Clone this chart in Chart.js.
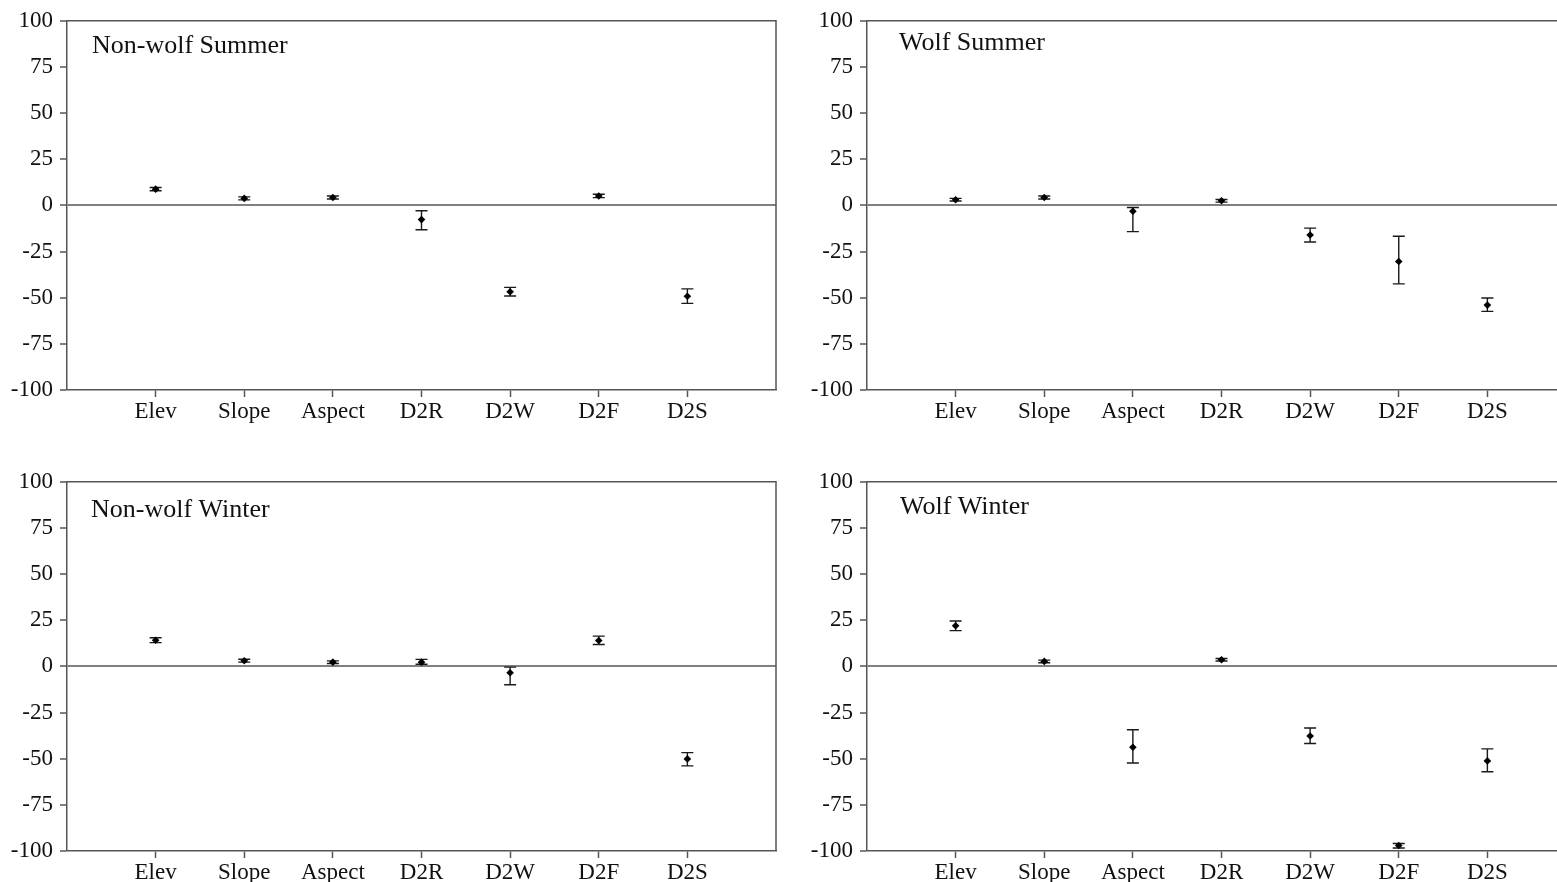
<!DOCTYPE html>
<html>
<head>
<meta charset="utf-8">
<script src="https://cdn.jsdelivr.net/npm/chart.js@4/dist/chart.umd.min.js"></script>
<style>
  body { margin: 0; background: #fff; }
  #wrap { position: relative; width: 1557px; height: 882px; overflow: hidden; }
  .panel { position: absolute; width: 786px; height: 430px; }
</style>
</head>
<body>
<div id="wrap">
  <div class="panel" style="left:0;top:0"><canvas id="c0" width="786" height="430"></canvas></div>
  <div class="panel" style="left:800px;top:0"><canvas id="c1" width="786" height="430"></canvas></div>
  <div class="panel" style="left:0;top:461px"><canvas id="c2" width="786" height="430"></canvas></div>
  <div class="panel" style="left:800px;top:461px"><canvas id="c3" width="786" height="430"></canvas></div>
</div>
<script>
/* DATA */
const categories = ["Elev", "Slope", "Aspect", "D2R", "D2W", "D2F", "D2S"];
const yTicks = [-100, -75, -50, -25, 0, 25, 50, 75, 100];
const panelTitles = ["Non-wolf Summer", "Wolf Summer", "Non-wolf Winter", "Wolf Winter"];

const nonWolfSummerMean = [8.8, 3.8, 4.3, -7.7, -46.8, 5.1, -49.2];
const nonWolfSummerLow  = [7.9, 3.0, 3.5, -13.2, -49.1, 4.2, -53.1];
const nonWolfSummerHigh = [9.7, 4.6, 5.1, -2.9, -44.4, 6.0, -45.2];

const wolfSummerMean = [3.1, 4.3, -3.2, 2.5, -16.0, -30.4, -54.0];
const wolfSummerLow  = [2.4, 3.5, -14.2, 1.8, -19.8, -42.5, -57.4];
const wolfSummerHigh = [3.8, 5.1, -1.1, 3.2, -12.3, -16.7, -50.2];

const nonWolfWinterMean = [14.2, 3.1, 2.3, 2.3, -3.4, 14.0, -50.1];
const nonWolfWinterLow  = [12.9, 2.3, 1.6, 1.2, -9.9, 11.9, -53.9];
const nonWolfWinterHigh = [15.5, 3.9, 3.0, 3.8, -0.4, 16.4, -46.7];

const wolfWinterMean = [22.0, 2.7, -43.8, 3.6, -37.7, -97.0, -51.2];
const wolfWinterLow  = [19.4, 2.0, -52.3, 2.9, -41.8, -98.4, -57.1];
const wolfWinterHigh = [24.6, 3.4, -34.3, 4.3, -33.4, -95.9, -44.7];

const panelMeans = [nonWolfSummerMean, wolfSummerMean, nonWolfWinterMean, wolfWinterMean];
const panelLows = [nonWolfSummerLow, wolfSummerLow, nonWolfWinterLow, wolfWinterLow];
const panelHighs = [nonWolfSummerHigh, wolfSummerHigh, nonWolfWinterHigh, wolfWinterHigh];

/* STYLE */
const FONT = "'Liberation Serif', 'Times New Roman', serif";
const AXIS = "#555";
const titleOffsets = [[25, 25], [32, 22], [24, 28], [33, 25]];

/* PLUGINS */
const errorBars = {
  id: "errorBars",
  beforeDatasetsDraw(chart, args, opts) {
    const { ctx } = chart;
    const xs = chart.scales.x, ys = chart.scales.y;
    ctx.save();
    ctx.strokeStyle = "#1a1a1a";
    ctx.lineWidth = 1.4;
    opts.low.forEach((lo, i) => {
      const x = xs.getPixelForValue(i + 1);
      const y1 = ys.getPixelForValue(lo);
      const y2 = ys.getPixelForValue(opts.high[i]);
      ctx.beginPath();
      ctx.moveTo(x, y1); ctx.lineTo(x, y2);
      ctx.moveTo(x - 6, y1); ctx.lineTo(x + 6, y1);
      ctx.moveTo(x - 6, y2); ctx.lineTo(x + 6, y2);
      ctx.stroke();
    });
    ctx.restore();
  }
};

const frame = {
  id: "frame",
  afterDraw(chart, args, opts) {
    const { ctx, chartArea: a } = chart;
    ctx.save();
    ctx.strokeStyle = AXIS;
    ctx.lineWidth = 1.5;
    ctx.beginPath();
    ctx.moveTo(a.left, a.top);
    ctx.lineTo(a.right, a.top);
    ctx.lineTo(a.right, a.bottom);
    ctx.stroke();
    ctx.fillStyle = "#111";
    ctx.font = "26px " + FONT;
    ctx.textBaseline = "middle";
    ctx.fillText(opts.title, a.left + opts.dx, a.top + opts.dy);
    ctx.restore();
  }
};

/* CHARTS */
function makePanel(i) {
  const pts = panelMeans[i].map((v, k) => ({ x: k + 1, y: v }));
  return new Chart(document.getElementById("c" + i), {
    type: "scatter",
    data: {
      datasets: [{
        data: pts,
        pointStyle: "rectRot",
        pointRadius: 3.8,
        backgroundColor: "#000",
        borderColor: "#000",
        borderWidth: 0
      }]
    },
    options: {
      responsive: false,
      animation: false,
      events: [],
      layout: { padding: { top: 19, right: 10, left: 0, bottom: 0 } },
      plugins: {
        legend: { display: false },
        tooltip: { enabled: false },
        errorBars: { low: panelLows[i], high: panelHighs[i] },
        frame: { title: panelTitles[i], dx: titleOffsets[i][0], dy: titleOffsets[i][1] }
      },
      scales: {
        x: {
          type: "linear",
          min: 0,
          max: categories.length + 1,
          afterBuildTicks: (s) => { s.ticks = categories.map((c, k) => ({ value: k + 1 })); },
          afterFit: (s) => { s.height = 40; },
          ticks: {
            autoSkip: false,
            maxRotation: 0,
            padding: 1,
            color: "#111",
            font: { family: FONT, size: 23 },
            callback: (v) => categories[v - 1] || ""
          },
          grid: { drawOnChartArea: false, drawTicks: true, tickLength: 7, tickColor: AXIS, tickWidth: 1.5 },
          border: { color: AXIS, width: 1.5 }
        },
        y: {
          min: -100,
          max: 100,
          afterBuildTicks: (s) => { s.ticks = yTicks.map((v) => ({ value: v })); },
          afterFit: (s) => { s.width = 67; },
          ticks: {
            padding: 7,
            color: "#111",
            font: { family: FONT, size: 23 }
          },
          grid: {
            drawOnChartArea: true,
            color: (c) => (c.tick && c.tick.value === 0 ? "#808080" : "rgba(0,0,0,0)"),
            lineWidth: (c) => (c.tick && c.tick.value === 0 ? 2 : 0),
            tickLength: 7,
            tickColor: AXIS,
            tickWidth: 1.5
          },
          border: { color: AXIS, width: 1.5 }
        }
      }
    },
    plugins: [errorBars, frame]
  });
}

window.onload = () => {
  for (let i = 0; i < 4; i++) makePanel(i);
};
</script>
</body>
</html>
